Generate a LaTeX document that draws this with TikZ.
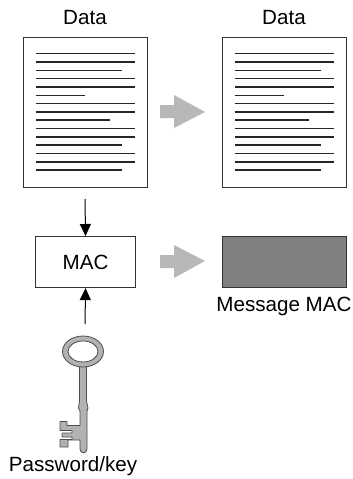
\documentclass[tikz,border=0pt]{standalone}
\usepackage{fontspec}
\setmainfont{Liberation Sans}
\usetikzlibrary{arrows.meta}
\definecolor{arrowgray}{gray}{0.72}
\definecolor{keygray}{gray}{0.70}
\definecolor{macgray}{gray}{0.5}
\definecolor{edgegray}{gray}{0.2}
\tikzset{
  x=1pt,y=-1pt,
  lbl/.style={font=\fontsize{20.6}{24}\selectfont,inner sep=0pt,text=black},
  doc/.style={draw=edgegray,line width=1.1pt,fill=white,minimum width=124pt,minimum height=150pt,inner sep=0pt,anchor=north west},
  textline/.style={draw=black!85,line width=1.2pt},
  bigarrow/.style={fill=arrowgray,draw=none},
  box/.style={draw=edgegray,line width=1.1pt,inner sep=0pt,anchor=north west},
  conn/.style={draw=black,line width=1pt,-{Triangle[length=12pt,width=11pt]}},
  keypart/.style={draw=black!70,line width=0.8pt,fill=keygray,line join=round},
}
\newcommand{\doclines}[1]{%
  \foreach \yy/\xe in {53.5/135,62/135,70.5/122,78.5/135,87/135,95.5/85,103.5/135,112/135,120/110,128.5/135,137/135,145/122,153.5/135,162/135,170/122}{
    \draw[textline] (#1+35.5,\yy) -- (#1+\xe,\yy);
  }}
\begin{document}
\begin{tikzpicture}
\useasboundingbox (0,0) rectangle (353,479);
\node[lbl] (d1) at (85,18) {Data};
\node[lbl] (d2) at (284,18) {Data};
\node[doc] (docA) at (23,37) {};
\node[doc] (docB) at (222,37) {};
\doclines{0}
\doclines{199}
\fill[bigarrow] (160,105) -- (174,105) -- (174,95) -- (205,112) -- (174,128) -- (174,118) -- (160,118) -- cycle;
\fill[bigarrow] (160,255) -- (174,255) -- (174,245) -- (205,261) -- (174,278) -- (174,268) -- (160,268) -- cycle;
\node[box,minimum width=100pt,minimum height=51pt,fill=white,lbl,draw=edgegray] (mac) at (35,236) {MAC};
\node[box,minimum width=124pt,minimum height=51pt,fill=macgray] (msg) at (222,236) {};
\node[lbl] (msglbl) at (284,306) {Message MAC};
\node[lbl] (pw) at (73,466) {Password/key};
\coordinate (top) at (85,199);
\coordinate (bot) at (85,324);
\draw[conn] (top) -- (mac.north);
\draw[conn] (bot) -- (mac.south);
% key
\path[keypart] (79.5,364) -- (86.5,364) -- (86.5,401) -- (88,408) -- (87,411) -- (87,449) .. controls (87,454) and (80,454) .. (80,449)
  -- (80,440) -- (68,440) -- (68,447) -- (60,447) -- (60,439.5) -- (72,439.5) -- (72,437) -- (62,437) -- (62,433) -- (72,433) -- (72,430.5) -- (60,430.5) -- (60,421.5) -- (67,421.5) -- (67,425.5) -- (80,425.5) -- (80,411) -- (78.5,408) -- (79.5,401) -- cycle;
\path[keypart,even odd rule] (83,351.5) ellipse (20.5 and 15.5) (83,351.5) ellipse (15 and 10.5);
\end{tikzpicture}
\end{document}
